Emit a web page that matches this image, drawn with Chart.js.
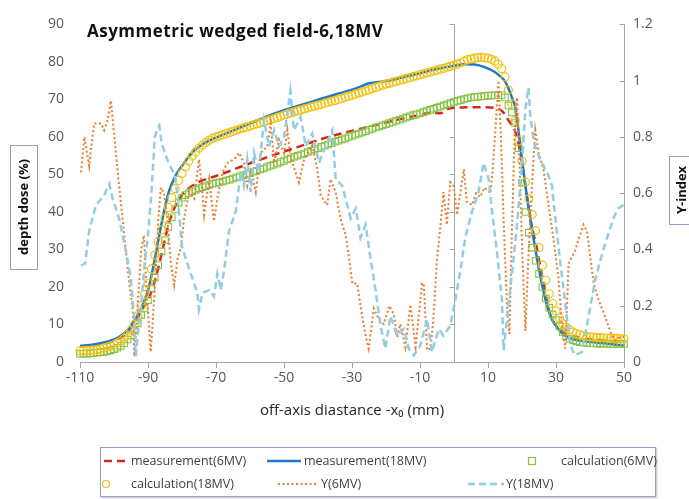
<!DOCTYPE html>
<html>
<head>
<meta charset="utf-8">
<script src="https://cdn.jsdelivr.net/npm/chart.js@4.4.1/dist/chart.umd.min.js"></script>
<style>
  html, body { margin: 0; padding: 0; background: #fff; }
  #wrap { position: relative; width: 689px; height: 499px; overflow: hidden; }
  #legend {
    position: absolute; left: 100px; top: 447px; width: 554px; height: 48px;
    border: 1px solid #a597cc; box-shadow: 1px 1px 2px rgba(0,0,0,0.25);
    font: 12.5px "Open Sans", sans-serif; color: #404040; background: #fff;
  }
  .item { position: absolute; white-space: nowrap; line-height: 14px; }
  .item svg { position: absolute; }
</style>
</head>
<body>
<div id="wrap">
  <canvas id="chart" width="689" height="499"></canvas>
  <div id="legend"></div>
</div>
<script>
// axis ticks
const xTicks = [-110, -90, -70, -50, -30, -10, 10, 30, 50];
const yLeftTicks = [0, 10, 20, 30, 40, 50, 60, 70, 80, 90];
const yRightTicks = [0, 0.2, 0.4, 0.6, 0.8, 1, 1.2];
const yRightLabels = ['0', '0.2', '0.4', '0.6', '0.8', '1', '1.2'];

// measurement 6MV (depth dose %)
const meas6X = [-110, -105, -100, -98, -96, -94, -92, -90, -88, -86,
  -84, -82, -80, -78, -76, -74, -70, -66, -62, -58,
  -54, -50, -46, -42, -38, -34, -30, -26, -22, -18,
  -14, -10, -6, -4, -2, 0, 4, 8, 12, 14,
  15, 16, 18, 19.5, 21, 22.5, 24.5, 26, 28, 30,
  32, 35, 38, 44, 50];
const meas6Y = [4.2, 4.5, 5.6, 6.5, 8.0, 10.5, 13.5, 16.5, 21.5, 28.8,
  36.5, 41.5, 44.5, 46.3, 47.5, 48.4, 49.6, 50.9, 52.3, 53.6,
  54.9, 56.1, 57.3, 58.5, 59.7, 60.7, 61.6, 62.5, 63.4, 64.3,
  65.1, 65.9, 66.5, 66.3, 67.4, 67.8, 67.9, 67.9, 67.7, 67.0,
  66.0, 64.5, 61.5, 55.8, 47.0, 38.0, 29.7, 22.5, 13.5, 9.7,
  8.0, 7.0, 6.3, 5.7, 5.3];

// measurement 18MV
const meas18X = [-110, -106, -102, -100, -98, -96, -94, -92, -90, -88,
  -86, -84, -82, -80, -78, -76, -74, -72, -70, -65,
  -60, -55, -50, -45, -40, -35, -30, -27, -25, -20,
  -15, -10, -5, 0, 3, 6, 9, 12, 14, 15,
  16, 17, 18, 19, 20, 21, 22.4, 24, 25.8, 27.7,
  29, 30.6, 32, 34.6, 38, 44, 48.8, 50];
const meas18Y = [4.3, 4.7, 5.4, 6.0, 7.0, 8.5, 11.0, 14.3, 19.0, 27.5,
  37.0, 45.0, 49.5, 52.3, 54.8, 56.7, 58.0, 59.0, 59.8, 61.7,
  63.6, 65.5, 67.1, 68.5, 69.9, 71.3, 72.6, 73.6, 74.3, 74.9,
  75.9, 77.0, 78.1, 79.0, 79.4, 79.3, 78.6, 77.3, 75.8, 74.8,
  73.0, 70.6, 67.9, 61.5, 54.0, 47.0, 38.4, 29.7, 21.0, 14.1,
  11.0, 8.9, 7.5, 6.2, 5.6, 5.0, 4.5, 4.4];

// calculation grid, 1 mm (both energies)
const calcX = [-110, -109, -108, -107, -106, -105, -104, -103, -102, -101,
  -100, -99, -98, -97, -96, -95, -94, -93, -92, -91,
  -90, -89, -88, -87, -86, -85, -84, -83, -82, -81,
  -80, -79, -78, -77, -76, -75, -74, -73, -72, -71,
  -70, -69, -68, -67, -66, -65, -64, -63, -62, -61,
  -60, -59, -58, -57, -56, -55, -54, -53, -52, -51,
  -50, -49, -48, -47, -46, -45, -44, -43, -42, -41,
  -40, -39, -38, -37, -36, -35, -34, -33, -32, -31,
  -30, -29, -28, -27, -26, -25, -24, -23, -22, -21,
  -20, -19, -18, -17, -16, -15, -14, -13, -12, -11,
  -10, -9, -8, -7, -6, -5, -4, -3, -2, -1,
  0, 1, 2, 3, 4, 5, 6, 7, 8, 9,
  10, 11, 12, 13, 14, 15, 16, 17, 18, 19,
  20, 21, 22, 23, 24, 25, 26, 27, 28, 29,
  30, 31, 32, 33, 34, 35, 36, 37, 38, 39,
  40, 41, 42, 43, 44, 45, 46, 47, 48, 49,
  50];
const calc6Y = [2.2, 2.2, 2.3, 2.3, 2.4, 2.5, 2.6, 2.7, 2.9, 3.1,
  3.4, 3.8, 4.3, 5.0, 6.0, 7.1, 8.5, 10.3, 12.5, 14.4,
  16.5, 19.6, 22.5, 25.8, 29.5, 32.5, 36.0, 38.6, 40.8, 42.5,
  43.8, 44.5, 45.0, 45.5, 45.9, 46.3, 46.6, 46.9, 47.2, 47.5,
  47.7, 47.9, 48.1, 48.4, 48.6, 48.9, 49.2, 49.5, 49.8, 50.0,
  50.3, 50.7, 51.0, 51.3, 51.6, 52.0, 52.3, 52.6, 52.9, 53.3,
  53.6, 54.0, 54.3, 54.7, 55.0, 55.3, 55.6, 56.0, 56.3, 56.7,
  57.0, 57.4, 57.7, 58.0, 58.3, 58.7, 59.0, 59.3, 59.6, 60.0,
  60.3, 60.6, 60.9, 61.2, 61.5, 61.9, 62.2, 62.5, 62.8, 63.1,
  63.4, 63.7, 64.0, 64.3, 64.6, 64.9, 65.2, 65.5, 65.8, 66.0,
  66.3, 66.6, 66.9, 67.2, 67.5, 67.8, 68.1, 68.4, 68.7, 69.0,
  69.3, 69.6, 69.8, 70.1, 70.3, 70.5, 70.6, 70.7, 70.8, 70.9,
  71.0, 71.0, 71.1, 71.1, 71.1, 70.5, 68.4, 66.5, 63.7, 57.0,
  47.8, 40.0, 34.5, 30.5, 27.0, 23.5, 20.0, 17.0, 14.5, 12.7,
  11.2, 9.5, 8.0, 6.8, 6.2, 5.8, 5.5, 5.3, 5.2, 5.1,
  5.0, 5.0, 4.9, 4.9, 4.9, 4.9, 4.8, 4.8, 4.8, 4.8,
  4.8];
const calc18Y = [3.0, 3.0, 3.1, 3.1, 3.2, 3.3, 3.5, 3.7, 4.0, 4.3,
  4.6, 5.1, 5.6, 6.3, 7.2, 8.4, 10.0, 12.3, 15.0, 18.0,
  21.0, 24.8, 28.5, 32.0, 35.2, 38.3, 41.2, 43.8, 46.2, 48.4,
  50.3, 52.0, 53.6, 54.9, 56.0, 57.0, 57.8, 58.5, 59.1, 59.6,
  60.0, 60.3, 60.6, 60.9, 61.2, 61.5, 61.8, 62.1, 62.4, 62.6,
  62.9, 63.2, 63.5, 63.7, 64.0, 64.3, 64.6, 64.9, 65.2, 65.5,
  65.8, 66.1, 66.4, 66.7, 67.0, 67.2, 67.5, 67.7, 68.0, 68.2,
  68.5, 68.7, 69.0, 69.2, 69.5, 69.7, 70.0, 70.3, 70.6, 70.8,
  71.1, 71.4, 71.7, 72.0, 72.3, 72.6, 72.9, 73.2, 73.5, 73.8,
  74.1, 74.3, 74.6, 74.8, 75.1, 75.3, 75.6, 75.8, 76.1, 76.3,
  76.6, 76.8, 77.1, 77.3, 77.6, 77.8, 78.1, 78.3, 78.6, 78.8,
  79.1, 79.4, 79.8, 80.2, 80.6, 80.8, 81.0, 81.1, 81.2, 81.1,
  81.0, 80.7, 80.2, 79.4, 78.2, 76.0, 72.5, 68.8, 64.4, 59.0,
  53.5, 48.0, 43.5, 39.3, 35.0, 30.5, 25.8, 21.8, 18.2, 15.6,
  13.6, 11.8, 10.2, 9.3, 8.6, 8.0, 7.6, 7.3, 7.0, 6.8,
  6.7, 6.6, 6.5, 6.5, 6.4, 6.4, 6.3, 6.3, 6.3, 6.2,
  6.2];

// gamma index 6MV (right axis)
const gamma6X = [-109.7, -108.7, -107.3, -106.8, -105.8, -103.8, -102.9, -101.9, -100.9, -99.9,
  -98.5, -97.5, -96.5, -95.5, -94.5, -94.0, -93.0, -92.0, -91.2, -90.4,
  -89.2, -88.2, -87.0, -86.2, -85.3, -84.3, -83.3, -82.3, -81.3, -80.3,
  -79.4, -77.9, -76.4, -75.0, -74.0, -73.5, -72.0, -70.6, -69.6, -68.1,
  -66.6, -64.7, -63.2, -61.8, -60.8, -59.8, -58.3, -56.9, -54.9, -53.9,
  -52.9, -51.5, -50.0, -49.0, -48.1, -46.6, -45.6, -44.1, -41.7, -40.2,
  -39.2, -37.3, -36.3, -34.8, -33.4, -31.9, -30.9, -29.9, -28.5, -27.0,
  -26.0, -25.1, -23.6, -22.0, -20.7, -19.0, -17.7, -16.7, -15.8, -14.3,
  -12.8, -11.3, -9.4, -8.9, -7.9, -6.9, -6.0, -5.0, -4.0, -3.1,
  -2.1, -1.1, -0.1, 0.9, 1.9, 2.9, 3.8, 5.3, 6.5, 7.7,
  9.0, 10.7, 11.5, 12.3, 13.1, 13.8, 14.6, 15.6, 16.3, 17.0,
  17.8, 18.5, 19.3, 20.2, 21.0, 21.8, 22.8, 23.9, 24.9, 26.3,
  27.8, 29.2, 30.7, 31.7, 32.7, 33.2, 33.7, 35.6, 37.1, 38.1,
  39.1, 40.1, 41.1, 42.5, 44.0, 45.4, 46.4, 47.4, 48.8, 50.0];
const gamma6Y = [0.674, 0.80, 0.697, 0.755, 0.848, 0.848, 0.824, 0.859, 0.929, 0.80,
  0.627, 0.511, 0.395, 0.279, 0.187, 0.02, 0.20, 0.40, 0.45, 0.25,
  0.036, 0.222, 0.50, 0.62, 0.60, 0.511, 0.355, 0.274, 0.366, 0.407,
  0.511, 0.604, 0.581, 0.72, 0.604, 0.523, 0.65, 0.50, 0.581, 0.674,
  0.708, 0.72, 0.743, 0.708, 0.627, 0.685, 0.604, 0.743, 0.766, 0.848,
  0.708, 0.79, 0.743, 0.824, 0.731, 0.674, 0.639, 0.72, 0.77, 0.685,
  0.592, 0.558, 0.65, 0.604, 0.511, 0.453, 0.372, 0.279, 0.279, 0.163,
  0.094, 0.048, 0.19, 0.15, 0.135, 0.20, 0.169, 0.088, 0.135, 0.053,
  0.204, 0.053, 0.279, 0.279, 0.042, 0.048, 0.163, 0.366, 0.482, 0.604,
  0.488, 0.639, 0.627, 0.523, 0.604, 0.685, 0.569, 0.558, 0.60, 0.587,
  0.62, 0.60, 0.70, 0.85, 1.0, 0.80, 0.50, 0.20, 0.10, 0.45,
  0.80, 0.94, 0.70, 0.35, 0.111, 0.35, 0.60, 0.824, 0.743, 0.685,
  0.558, 0.442, 0.303, 0.14, 0.048, 0.187, 0.349, 0.395, 0.453, 0.488,
  0.465, 0.372, 0.279, 0.222, 0.175, 0.129, 0.094, 0.077, 0.088, 0.09];

// gamma index 18MV (right axis)
const gamma18X = [-109.7, -108.5, -107.3, -105.3, -102.9, -101.4, -100.4, -98.5, -96.5, -95.1,
  -94.1, -93.6, -93.0, -92.0, -91.0, -90.0, -89.0, -88.0, -87.2, -86.7,
  -86.0, -85.0, -84.0, -82.0, -81.0, -80.0, -78.4, -77.0, -75.5, -75.0,
  -74.0, -72.0, -70.6, -69.6, -68.6, -67.6, -66.2, -64.2, -62.7, -61.8,
  -60.8, -59.8, -58.8, -57.4, -55.9, -54.4, -52.9, -51.5, -50.0, -48.5,
  -48.1, -47.1, -45.1, -43.6, -41.7, -39.7, -37.8, -35.8, -34.8, -32.9,
  -30.4, -28.9, -27.5, -26.0, -24.6, -23.1, -21.6, -20.2, -18.7, -16.7,
  -14.8, -13.3, -11.8, -9.9, -7.9, -6.5, -4.5, -3.1, -1.1, 0.4,
  1.9, 3.3, 5.3, 7.2, 8.7, 10.2, 11.2, 12.6, 14.1, 14.6,
  15.6, 17.1, 18.5, 20.0, 21.0, 21.9, 22.4, 23.5, 25.3, 27.8,
  28.8, 29.8, 31.2, 32.7, 34.2, 35.6, 37.6, 39.6, 41.5, 43.0,
  44.4, 46.9, 48.3, 50.0];
const gamma18Y = [0.343, 0.35, 0.465, 0.558, 0.592, 0.633, 0.581, 0.511, 0.395, 0.303,
  0.163, 0.02, 0.10, 0.20, 0.35, 0.45, 0.60, 0.80, 0.83, 0.84,
  0.78, 0.74, 0.71, 0.66, 0.55, 0.41, 0.349, 0.30, 0.245, 0.187,
  0.245, 0.256, 0.233, 0.314, 0.256, 0.326, 0.465, 0.535, 0.674, 0.627,
  0.72, 0.604, 0.743, 0.674, 0.859, 0.766, 0.824, 0.766, 0.80, 0.93,
  0.963, 0.824, 0.871, 0.766, 0.812, 0.708, 0.766, 0.824, 0.65, 0.627,
  0.511, 0.546, 0.442, 0.488, 0.372, 0.256, 0.129, 0.048, 0.163, 0.094,
  0.117, 0.048, 0.024, 0.059, 0.152, 0.036, 0.117, 0.094, 0.129, 0.222,
  0.326, 0.442, 0.535, 0.604, 0.708, 0.65, 0.535, 0.395, 0.222, 0.042,
  0.158, 0.32, 0.482, 0.70, 0.90, 0.975, 0.882, 0.78, 0.72, 0.662,
  0.627, 0.511, 0.36, 0.21, 0.059, 0.024, 0.036, 0.163, 0.291, 0.36,
  0.418, 0.511, 0.546, 0.56];

const toPoints = (xs, ys) => xs.map((x, i) => ({ x: x, y: ys[i] }));

const axisGray = '#a6a6a6';
const labelGray = '#595959';
const boxPurple = '#a597cc';
Chart.defaults.font.family = '"Open Sans", sans-serif';

const datasets = [
  {
    label: 'measurement(6MV)', data: toPoints(meas6X, meas6Y), yAxisID: 'y',
    borderColor: '#d9261c', borderWidth: 2.5, borderDash: [8, 5], pointRadius: 0,
    cubicInterpolationMode: 'monotone', order: 5
  },
  {
    label: 'measurement(18MV)', data: toPoints(meas18X, meas18Y), yAxisID: 'y',
    borderColor: '#1f78cf', borderWidth: 2.5, pointRadius: 0,
    cubicInterpolationMode: 'monotone', order: 4
  },
  {
    label: 'calculation(6MV)', data: toPoints(calcX, calc6Y), yAxisID: 'y',
    showLine: false, borderColor: '#86c443', backgroundColor: 'rgba(0,0,0,0)',
    pointStyle: 'rect', pointRadius: 4.6, pointBorderWidth: 1.1, clip: false, order: 3
  },
  {
    label: 'calculation(18MV)', data: toPoints(calcX, calc18Y), yAxisID: 'y',
    showLine: false, borderColor: '#f4c10f', backgroundColor: 'rgba(0,0,0,0)',
    pointStyle: 'circle', pointRadius: 4, pointBorderWidth: 1.2, clip: false, order: 2
  },
  {
    label: 'Υ(6MV)', data: toPoints(gamma6X, gamma6Y), yAxisID: 'y1',
    borderColor: '#ed7d31', borderWidth: 2, borderDash: [2, 2.5], pointRadius: 0, order: 1
  },
  {
    label: 'Υ(18MV)', data: toPoints(gamma18X, gamma18Y), yAxisID: 'y1',
    borderColor: '#93cde3', borderWidth: 2.5, borderDash: [7, 4], pointRadius: 0, order: 0
  }
];

// axis at x = 0, inward ticks on the secondary axis, title and boxed axis titles
const decorations = {
  id: 'decorations',
  beforeDatasetsDraw(chart) {
    const { ctx, chartArea: a, scales: { x, y, y1 } } = chart;
    ctx.save();
    ctx.strokeStyle = axisGray;
    ctx.lineWidth = 1;
    const x0 = Math.round(x.getPixelForValue(0)) + 0.5;
    const xr = Math.round(a.right) + 0.5;
    ctx.beginPath();
    ctx.moveTo(x0, a.top);
    ctx.lineTo(x0, a.bottom);
    y.ticks.forEach(t => {
      const py = Math.round(y.getPixelForValue(t.value)) + 0.5;
      ctx.moveTo(x0 - 5, py);
      ctx.lineTo(x0, py);
    });
    y1.ticks.forEach(t => {
      const py = Math.round(y1.getPixelForValue(t.value)) + 0.5;
      ctx.moveTo(xr - 5, py);
      ctx.lineTo(xr, py);
    });
    ctx.stroke();
    ctx.restore();
  },
  afterDraw(chart) {
    const { ctx, chartArea: a } = chart;
    ctx.save();
    ctx.fillStyle = '#111';
    ctx.font = 'bold 17px "Open Sans", sans-serif';
    ctx.letterSpacing = '0.5px';
    ctx.textBaseline = 'alphabetic';
    ctx.fillText('Asymmetric wedged field-6,18MV', a.left + 7, a.top + 13);
    ctx.letterSpacing = '0px';

    const boxedTitle = (text, cx, cy, w, h) => {
      ctx.fillStyle = '#fff';
      ctx.fillRect(cx - w / 2, cy - h / 2, w, h);
      ctx.strokeStyle = boxPurple;
      ctx.lineWidth = 1;
      ctx.strokeRect(Math.round(cx - w / 2) + 0.5, Math.round(cy - h / 2) + 0.5, w, h);
      ctx.save();
      ctx.translate(cx, cy);
      ctx.rotate(-Math.PI / 2);
      ctx.fillStyle = '#111';
      ctx.font = 'bold 13px "Open Sans", sans-serif';
      ctx.textAlign = 'center';
      ctx.textBaseline = 'middle';
      ctx.fillText(text, 0, 1);
      ctx.restore();
    };
    boxedTitle('depth dose (%)', 23, 207, 27, 124);
    boxedTitle('Υ-index', 681, 190, 24, 68);
    ctx.restore();
  }
};

const chart = new Chart(document.getElementById('chart').getContext('2d'), {
  type: 'line',
  data: { datasets: datasets },
  options: {
    responsive: false,
    animation: false,
    layout: { padding: { top: 17, left: 0, right: 0, bottom: 79 } },
    plugins: { legend: { display: false }, tooltip: { enabled: false } },
    scales: {
      x: {
        type: 'linear', min: -110, max: 50,
        afterBuildTicks: s => { s.ticks = xTicks.map(v => ({ value: v })); },
        afterFit: s => { s.height = 58; },
        grid: { drawOnChartArea: false, drawTicks: true, tickLength: 6, color: axisGray },
        border: { color: axisGray },
        ticks: {
          color: labelGray, font: { size: 14 }, padding: 2, maxRotation: 0, autoSkip: false,
          callback: v => String(v)
        },
        title: {
          display: true, text: 'off-axis diastance -x₀ (mm)', color: '#262626',
          font: { size: 15 }, padding: { top: 2, bottom: 0 }
        }
      },
      y: {
        position: 'left', min: 0, max: 90,
        afterBuildTicks: s => { s.ticks = yLeftTicks.map(v => ({ value: v })); },
        afterFit: s => { s.width = 80; },
        grid: { display: false, drawTicks: false },
        border: { display: false },
        ticks: { color: labelGray, font: { size: 14 }, padding: 16, callback: v => String(v) }
      },
      y1: {
        position: 'right', min: 0, max: 1.2,
        afterBuildTicks: s => { s.ticks = yRightTicks.map(v => ({ value: v })); },
        afterFit: s => { s.width = 65; },
        grid: { display: false, drawTicks: false },
        border: { color: axisGray },
        ticks: {
          color: labelGray, font: { size: 14 }, padding: 9,
          callback: (v, i) => yRightLabels[i]
        }
      }
    }
  },
  plugins: [decorations]
});

// legend built from the datasets, laid out in the 3-column grid of the original
const legendSlots = [
  { left: 3, top: 6, sw: 24 },
  { left: 166, top: 6, sw: 34 },
  { left: 426, top: 6, sw: 10 },
  { left: 0, top: 29, sw: 10 },
  { left: 177, top: 29, sw: 40 },
  { left: 367, top: 29, sw: 36 }
];
const textOffsets = [27, 37, 34, 30, 43, 38];

function sampleSvg(ds, w) {
  if (ds.showLine === false) {
    const shape = ds.pointStyle === 'rect'
      ? `<rect x="1.5" y="1.5" width="7" height="7" fill="none" stroke="${ds.borderColor}" stroke-width="1.2"/>`
      : `<circle cx="5" cy="5" r="3.5" fill="none" stroke="${ds.borderColor}" stroke-width="1.2"/>`;
    return `<svg width="10" height="10" style="left:0;top:2px">${shape}</svg>`;
  }
  const dash = ds.borderDash ? `stroke-dasharray="${ds.borderDash.join(' ')}"` : '';
  return `<svg width="${w}" height="6" style="left:0;top:4px"><line x1="0" y1="3" x2="${w}" y2="3" stroke="${ds.borderColor}" stroke-width="${ds.borderWidth}" ${dash}/></svg>`;
}

const legendEl = document.getElementById('legend');
chart.data.datasets.forEach((ds, i) => {
  const slot = legendSlots[i];
  const item = document.createElement('div');
  item.className = 'item';
  item.style.left = slot.left + 'px';
  item.style.top = slot.top + 'px';
  item.innerHTML = sampleSvg(ds, slot.sw) +
    `<span style="position:relative;left:${textOffsets[i]}px">${ds.label}</span>`;
  legendEl.appendChild(item);
});
</script>
</body>
</html>
